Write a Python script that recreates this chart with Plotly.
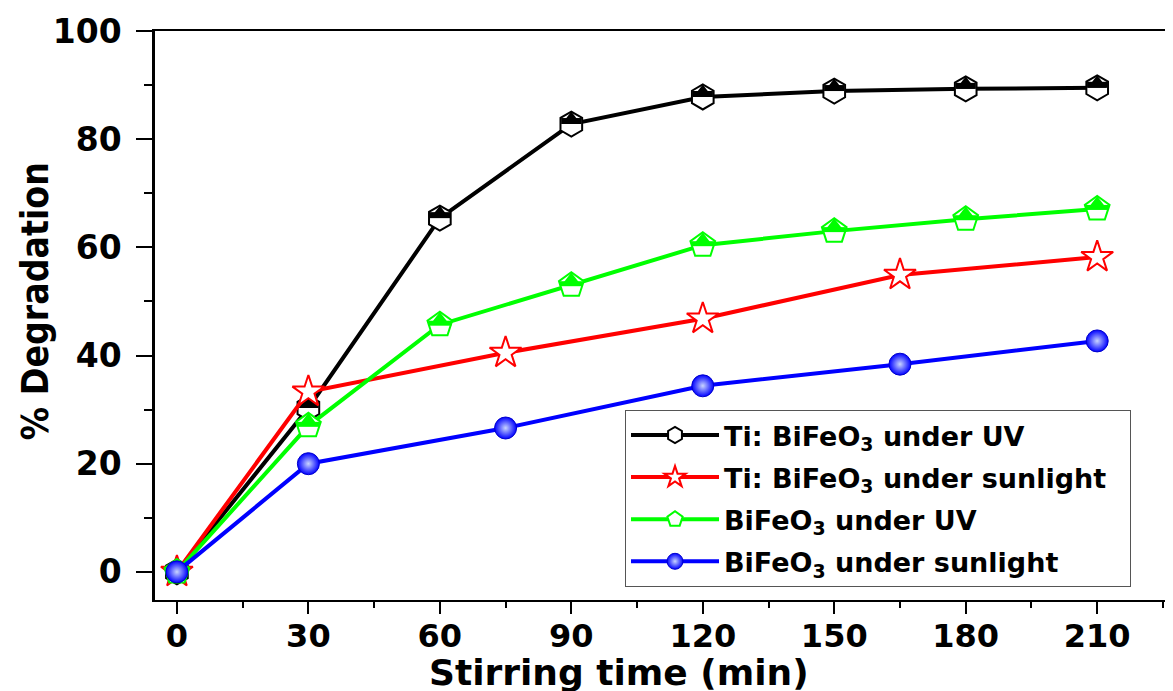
import plotly.graph_objects as go

# Data
x_ti_uv = [0, 30, 60, 90, 120, 150, 180, 210]
y_ti_uv = [0, 30.3, 65.4, 82.8, 87.8, 88.9, 89.3, 89.5]

x_ti_sun = [0, 30, 75, 120, 165, 210]
y_ti_sun = [0, 33.3, 40.5, 46.8, 54.9, 58.2]

x_bfo_uv = [0, 30, 60, 90, 120, 150, 180, 210]
y_bfo_uv = [0, 27.0, 45.7, 53.0, 60.4, 63.0, 65.2, 67.1]

x_bfo_sun = [0, 30, 75, 120, 165, 210]
y_bfo_sun = [0, 20.0, 26.6, 34.4, 38.4, 42.7]

names = ["Ti: BiFeO<sub>3</sub> under UV",
         "Ti: BiFeO<sub>3</sub> under sunlight&nbsp;&nbsp;",
         "BiFeO<sub>3</sub> under UV",
         "BiFeO<sub>3</sub> under sunlight"]

x_ticks = [0, 30, 60, 90, 120, 150, 180, 210]
y_ticks = [0, 20, 40, 60, 80, 100]
x_title = "Stirring time (min)"
y_title = "% Degradation"

FONT = "DejaVu Sans"
COND = "DejaVu Sans Condensed, DejaVu Sans"
fig = go.Figure()


def half_fill(x, y, color, tri_size, tri_shift, bar_size, bar_width, bar_shift):
    # triangle part of the filled upper half
    fig.add_trace(go.Scatter(x=x, y=y, mode="markers", showlegend=False, hoverinfo="skip",
                             marker=dict(symbol="triangle-down", angle=180, standoff=tri_shift,
                                         size=tri_size, color=color, line=dict(width=0))))
    # band part of the filled upper half
    fig.add_trace(go.Scatter(x=x, y=y, mode="markers", showlegend=False, hoverinfo="skip",
                             marker=dict(symbol="line-ew", angle=180, standoff=bar_shift,
                                         size=bar_size, color=color,
                                         line=dict(width=bar_width, color=color))))


# Ti:BiFeO3 UV
fig.add_trace(go.Scatter(x=x_ti_uv, y=y_ti_uv, name=names[0], mode="lines+markers",
                         legendgroup="a",
                         line=dict(color="black", width=4),
                         marker=dict(symbol="hexagon", size=25, color="white",
                                     line=dict(color="black", width=2))))
half_fill(x_ti_uv, y_ti_uv, "black", 16.5, 4.2, 14.5, 6, 3)

# Ti:BiFeO3 sunlight
fig.add_trace(go.Scatter(x=x_ti_sun, y=y_ti_sun, name=names[1], mode="lines+markers",
                         legendgroup="b",
                         line=dict(color="#ff0000", width=4),
                         marker=dict(symbol="star", size=24, color="white",
                                     line=dict(color="#ff0000", width=2))))

# BiFeO3 UV
fig.add_trace(go.Scatter(x=x_bfo_uv, y=y_bfo_uv, name=names[2], mode="lines+markers",
                         legendgroup="c",
                         line=dict(color="#00ff00", width=4),
                         marker=dict(symbol="pentagon", size=26, color="white",
                                     line=dict(color="#00ff00", width=2))))
half_fill(x_bfo_uv, y_bfo_uv, "#00ff00", 17, 4.3, 16.5, 5, 1.5)

# BiFeO3 sunlight
fig.add_trace(go.Scatter(x=x_bfo_sun, y=y_bfo_sun, name=names[3], mode="lines+markers",
                         legendgroup="d",
                         line=dict(color="#0000ff", width=4),
                         marker=dict(symbol="circle", size=22, color="#0000ff",
                                     gradient=dict(type="radial", color="#c8d4ff"),
                                     line=dict(color="#0000cc", width=1))))

# axis titles as annotations (positioned like the reference)
fig.add_annotation(text=x_title, xref="paper", yref="paper", x=0.4555, y=-0.088,
                   xanchor="center", yanchor="top", showarrow=False,
                   font=dict(family=FONT, size=36, weight="bold", color="black"))
fig.add_annotation(text=y_title, xref="paper", yref="paper", x=-0.118, y=0.525,
                   xanchor="center", yanchor="middle", showarrow=False, textangle=-90,
                   font=dict(family=COND, size=37, weight="bold", color="black"))

fig.update_layout(
    width=1165, height=683,
    margin=dict(l=147, r=0, t=23, b=91),
    paper_bgcolor="white", plot_bgcolor="white",
    font=dict(family=FONT, color="black"),
    showlegend=True,
    legend=dict(x=0.4617, y=0.334, xanchor="left", yanchor="top",
                bgcolor="white", bordercolor="#555555", borderwidth=1,
                font=dict(family=FONT, size=27, weight="bold", color="black"),
                itemwidth=88, tracegroupgap=4, traceorder="grouped"),
    xaxis=dict(range=[-5, 227.3], tickvals=x_ticks, ticks="outside", ticklen=12, tickwidth=2,
               tickcolor="black", showline=True, linecolor="black", linewidth=2, mirror=True,
               showgrid=False, zeroline=False, automargin=False, ticklabelstandoff=-5,
               tickfont=dict(family=FONT, size=32, weight="bold"),
               minor=dict(dtick=15, ticks="outside", ticklen=6, tickwidth=2, tickcolor="black")),
    yaxis=dict(range=[-5.2, 100], tickvals=y_ticks, ticks="outside", ticklen=16, tickwidth=2,
               tickcolor="black", showline=True, linecolor="black", linewidth=2.5, mirror=False,
               showgrid=False, zeroline=False, automargin=False, ticklabelstandoff=8,
               tickfont=dict(family=FONT, size=33, weight="bold"),
               minor=dict(dtick=10, ticks="outside", ticklen=8, tickwidth=2, tickcolor="black")),
)

fig.write_html("out.html")
